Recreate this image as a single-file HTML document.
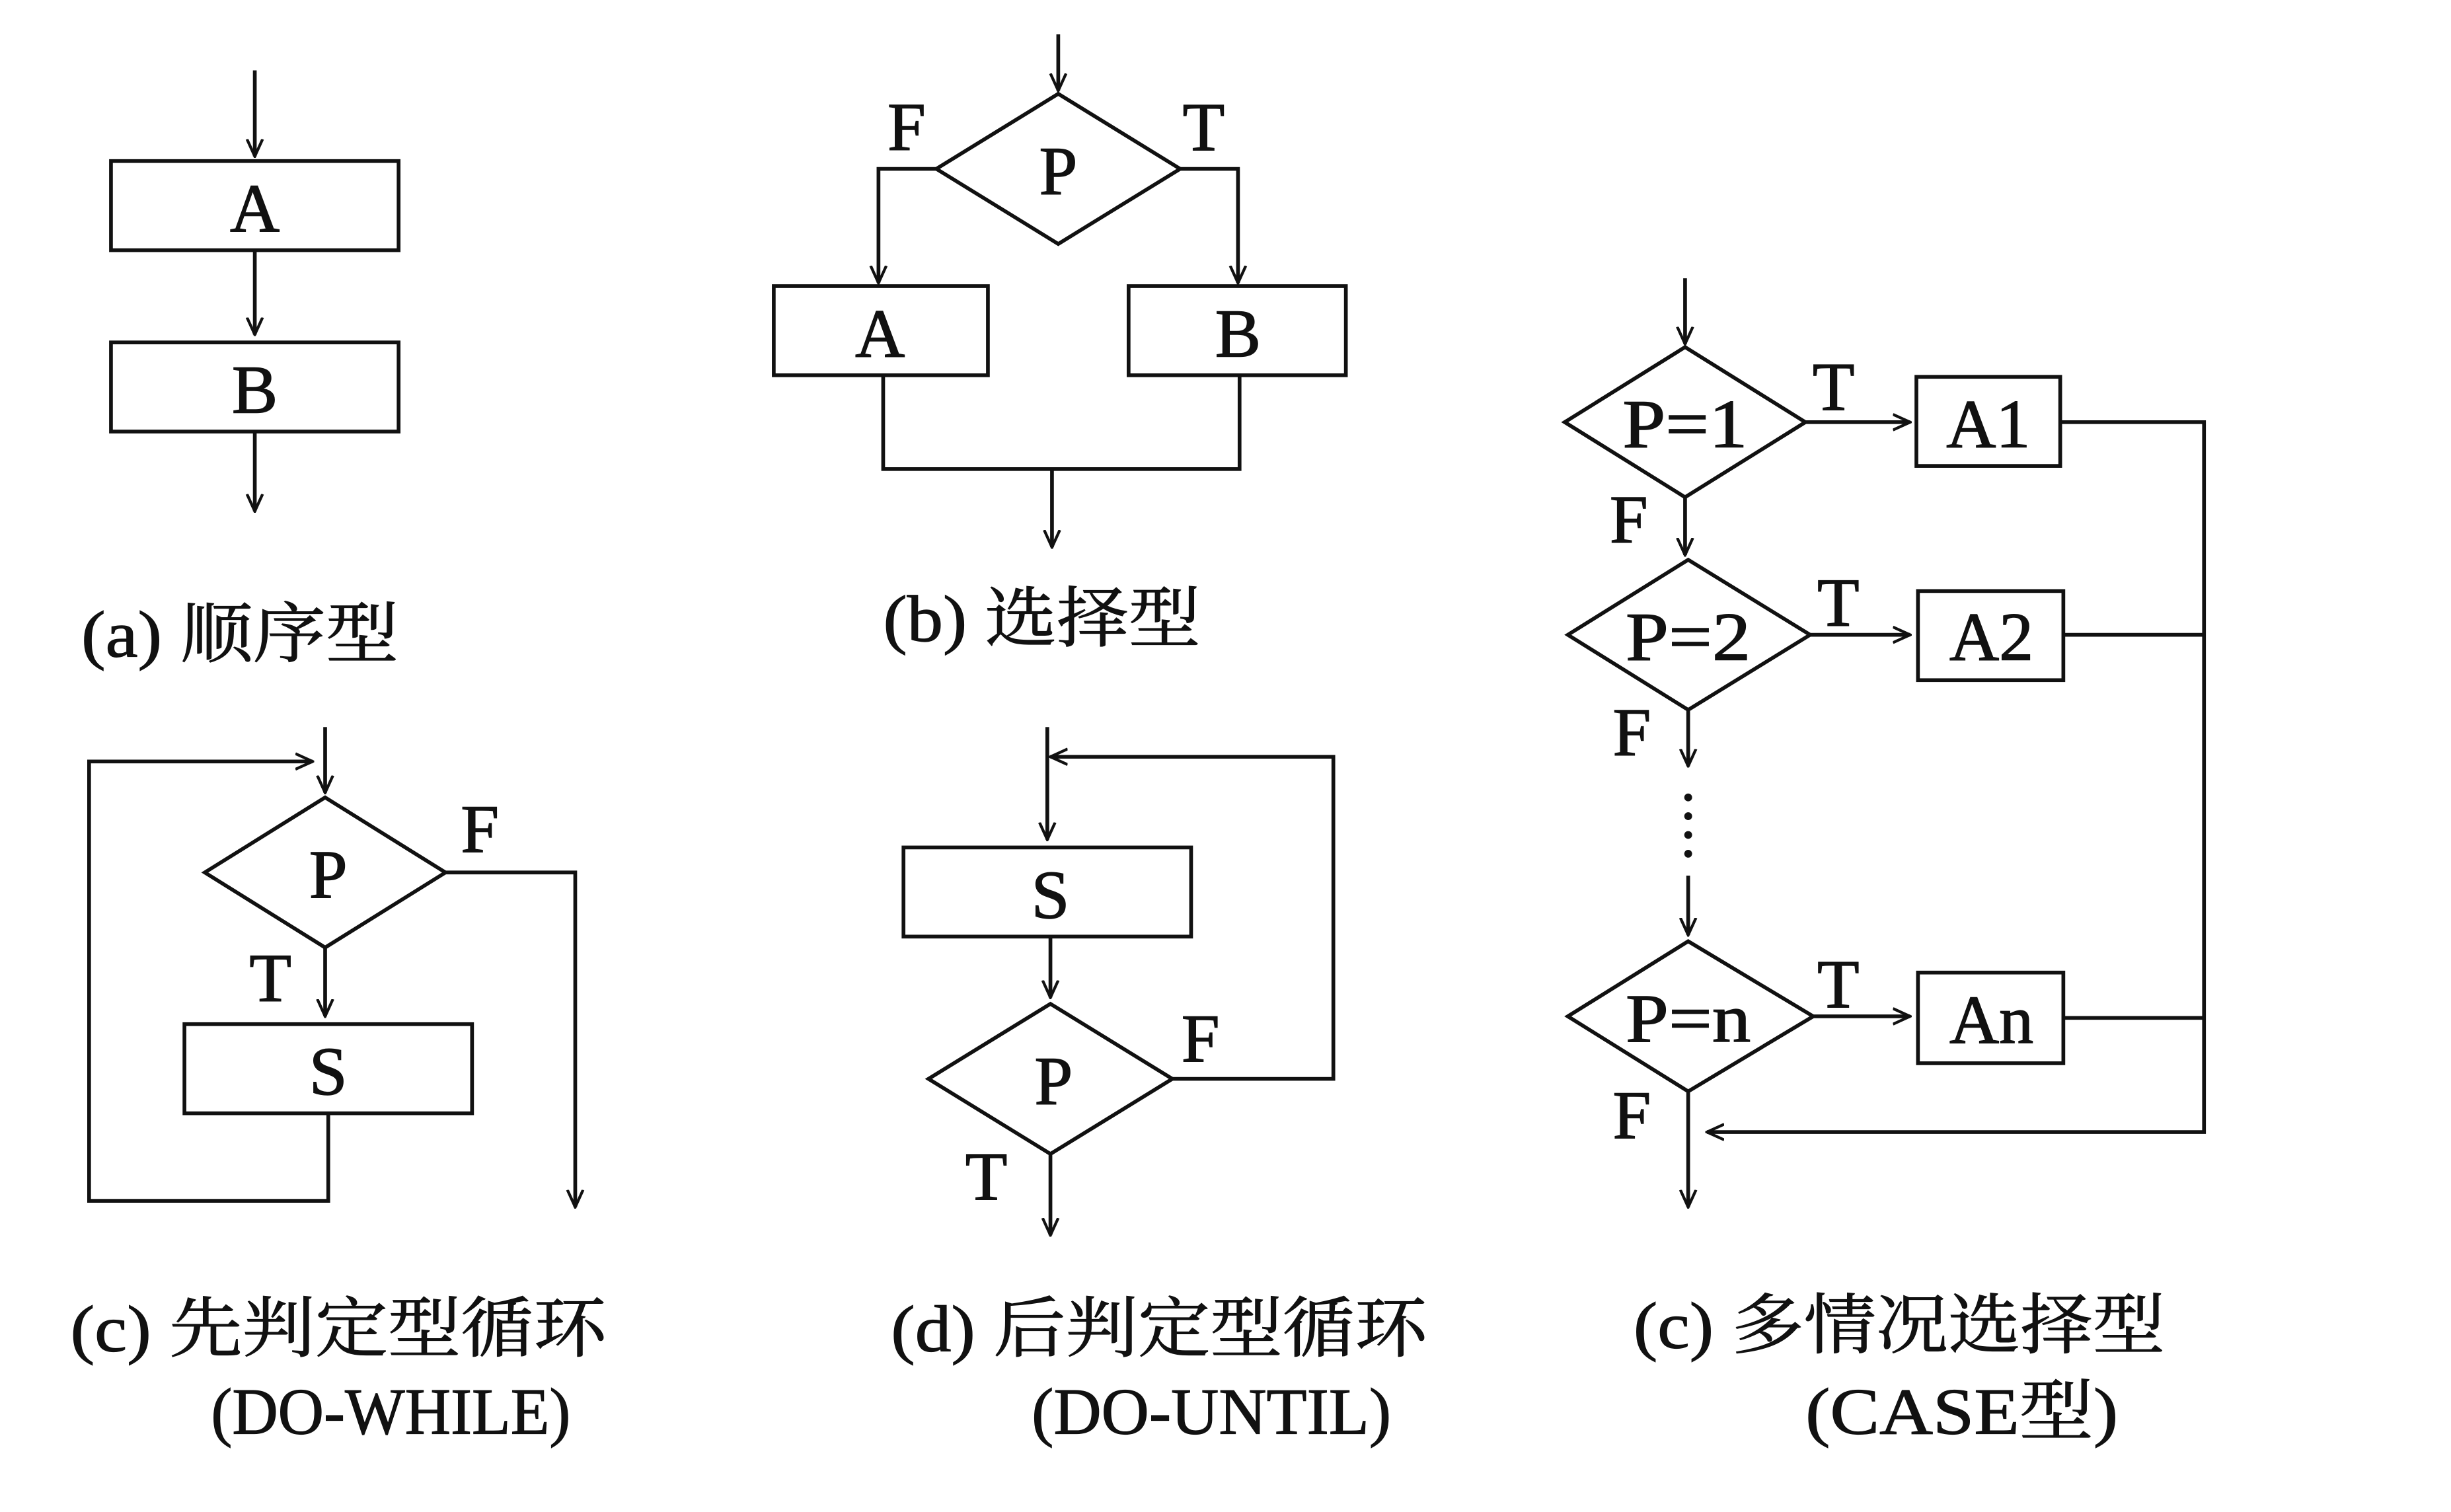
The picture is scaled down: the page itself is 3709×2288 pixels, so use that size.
<!DOCTYPE html>
<html><head><meta charset="utf-8"><style>
html,body{margin:0;padding:0;background:#fff}
svg{display:block}
text{font-family:"Liberation Serif","Noto Serif CJK SC",serif;fill:#111}
.l{font-size:44px;stroke:#111;stroke-width:0.6}
.c{font-family:"Liberation Serif","Noto Serif CJK SC",serif;font-size:42px;stroke:#111;stroke-width:0.5}
</style></head><body>
<svg width="3709" height="2288" viewBox="0 0 1568 967" preserveAspectRatio="none" xmlns="http://www.w3.org/2000/svg">
<defs>
<marker id="a" viewBox="0 0 12 12" refX="11" refY="6" markerWidth="12" markerHeight="12" markerUnits="userSpaceOnUse" orient="auto">
<path d="M0,1 L11,6 L0,11" fill="none" stroke="#111" stroke-width="1.8"/>
</marker>
</defs>
<g fill="none" stroke="#111" stroke-width="2.4">
<line x1="163" y1="45" x2="163" y2="100" marker-end="url(#a)"/>
<rect x="71" y="103" width="184" height="57"/>
<line x1="163" y1="160" x2="163" y2="214" marker-end="url(#a)"/>
<rect x="71" y="219" width="184" height="57"/>
<line x1="163" y1="276" x2="163" y2="327" marker-end="url(#a)"/>
<line x1="677" y1="22" x2="677" y2="58" marker-end="url(#a)"/>
<polygon points="599,108 677,60 755,108 677,156"/>
<polyline points="599,108 562,108 562,181" marker-end="url(#a)"/>
<polyline points="755,108 792,108 792,181" marker-end="url(#a)"/>
<rect x="495" y="183" width="137" height="57"/>
<rect x="722" y="183" width="139" height="57"/>
<polyline points="565,240 565,300 793,300 793,240"/>
<line x1="673" y1="300" x2="673" y2="350" marker-end="url(#a)"/>
<line x1="208" y1="465" x2="208" y2="507" marker-end="url(#a)"/>
<polygon points="131,558 208,510 285,558 208,606"/>
<polyline points="285,558 368,558 368,772" marker-end="url(#a)"/>
<line x1="208" y1="606" x2="208" y2="650" marker-end="url(#a)"/>
<rect x="118" y="655" width="184" height="57"/>
<polyline points="210,712 210,768 57,768 57,487 200,487" marker-end="url(#a)"/>
<line x1="670" y1="465" x2="670" y2="537" marker-end="url(#a)"/>
<rect x="578" y="542" width="184" height="57"/>
<line x1="672" y1="599" x2="672" y2="638" marker-end="url(#a)"/>
<polygon points="594,690 672,642 750,690 672,738"/>
<polyline points="750,690 853,690 853,484 672,484" marker-end="url(#a)"/>
<line x1="672" y1="738" x2="672" y2="790" marker-end="url(#a)"/>
<line x1="1078" y1="178" x2="1078" y2="220" marker-end="url(#a)"/>
<polygon points="1001,270 1078,222 1155,270 1078,318"/>
<line x1="1155" y1="270" x2="1222" y2="270" marker-end="url(#a)"/>
<rect x="1226" y="241" width="92" height="57"/>
<line x1="1078" y1="318" x2="1078" y2="355" marker-end="url(#a)"/>
<polygon points="1003,406 1080,358 1158,406 1080,454"/>
<line x1="1158" y1="406" x2="1222" y2="406" marker-end="url(#a)"/>
<rect x="1227" y="378" width="93" height="57"/>
<line x1="1080" y1="454" x2="1080" y2="490" marker-end="url(#a)"/>
<line x1="1080" y1="560" x2="1080" y2="598" marker-end="url(#a)"/>
<polygon points="1003,650 1080,602 1160,650 1080,698"/>
<line x1="1160" y1="650" x2="1222" y2="650" marker-end="url(#a)"/>
<rect x="1227" y="622" width="93" height="58"/>
<line x1="1080" y1="698" x2="1080" y2="772" marker-end="url(#a)"/>
<polyline points="1318,270 1410,270 1410,724 1092,724" marker-end="url(#a)"/>
<line x1="1320" y1="406" x2="1410" y2="406"/>
<line x1="1320" y1="651" x2="1410" y2="651"/>
</g>
<g fill="#111">
<circle cx="1080" cy="510" r="2.5"/><circle cx="1080" cy="522" r="2.5"/><circle cx="1080" cy="534" r="2.5"/><circle cx="1080" cy="546" r="2.5"/>
</g>
<g class="l" text-anchor="middle">
<text x="163" y="148">A</text>
<text x="163" y="264">B</text>
<text x="677" y="124">P</text>
<text x="563" y="228">A</text>
<text x="792" y="228">B</text>
<text x="580" y="96">F</text>
<text x="770" y="96">T</text>
<text x="210" y="574">P</text>
<text x="307" y="545">F</text>
<text x="173" y="640">T</text>
<text x="210" y="700">S</text>
<text x="672" y="587">S</text>
<text x="674" y="706">P</text>
<text x="768" y="679">F</text>
<text x="631" y="767">T</text>
<text x="1078" y="286" textLength="80" lengthAdjust="spacingAndGlyphs">P=1</text>
<text x="1080" y="422" textLength="80" lengthAdjust="spacingAndGlyphs">P=2</text>
<text x="1080" y="666" textLength="80" lengthAdjust="spacingAndGlyphs">P=n</text>
<text x="1272" y="286">A1</text>
<text x="1274" y="422">A2</text>
<text x="1274" y="667">An</text>
<text x="1173" y="262">T</text>
<text x="1176" y="400">T</text>
<text x="1176" y="644">T</text>
<text x="1042" y="347">F</text>
<text x="1044" y="483">F</text>
<text x="1044" y="728">F</text>
</g>
<g class="c">
<text x="52" y="420" textLength="203" lengthAdjust="spacingAndGlyphs">(a) 顺序型</text>
<text x="565" y="410" textLength="203" lengthAdjust="spacingAndGlyphs">(b) 选择型</text>
<text x="45" y="864" textLength="343" lengthAdjust="spacingAndGlyphs">(c) 先判定型循环</text>
<text x="135" y="917" textLength="230" lengthAdjust="spacingAndGlyphs">(DO-WHILE)</text>
<text x="570" y="864" textLength="343" lengthAdjust="spacingAndGlyphs">(d) 后判定型循环</text>
<text x="660" y="917" textLength="230" lengthAdjust="spacingAndGlyphs">(DO-UNTIL)</text>
<text x="1045" y="862" textLength="340" lengthAdjust="spacingAndGlyphs">(c) 多情况选择型</text>
<text x="1155" y="917" textLength="200" lengthAdjust="spacingAndGlyphs">(CASE型)</text>
</g>
</svg>
</body></html>
